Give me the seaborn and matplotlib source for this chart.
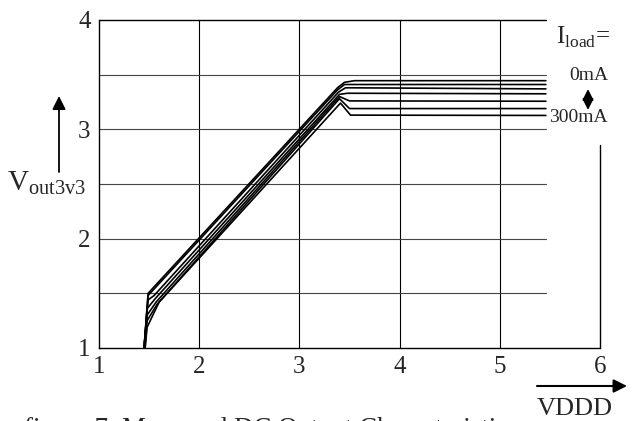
import matplotlib
matplotlib.use("Agg")
import matplotlib.pyplot as plt
import pandas as pd
import seaborn as sns

# curves, one per load step (0mA .. 300mA)
loads = ["0mA", "50mA", "100mA", "150mA", "200mA", "250mA", "300mA"]
vddd = [
    [1.45, 1.49, 3.38, 3.45, 3.55, 5.46],
    [1.45, 1.49, 3.38, 3.45, 3.55, 5.46],
    [1.45, 1.49, 1.55, 3.39, 3.46, 5.46],
    [1.45, 1.48, 1.56, 3.40, 3.48, 5.46],
    [1.45, 1.48, 1.57, 3.40, 3.50, 5.46],
    [1.46, 1.48, 1.58, 3.40, 3.50, 5.46],
    [1.46, 1.48, 1.60, 3.41, 3.51, 5.46],
]
vout = [
    [1.00, 1.50, 3.38, 3.43, 3.445, 3.445],
    [1.00, 1.48, 3.36, 3.41, 3.41, 3.41],
    [1.00, 1.44, 1.48, 3.34, 3.38, 3.37],
    [1.00, 1.36, 1.45, 3.32, 3.33, 3.325],
    [1.00, 1.30, 1.42, 3.30, 3.26, 3.257],
    [1.00, 1.25, 1.40, 3.28, 3.19, 3.19],
    [1.00, 1.19, 1.42, 3.24, 3.13, 3.127],
]
x_ticks = [1, 2, 3, 4, 5, 6]
y_ticks = [1, 2, 3, 4]

rows = []
for load, xs, ys in zip(loads, vddd, vout):
    for i, (x, y) in enumerate(zip(xs, ys)):
        rows.append({"load": load, "order": i, "VDDD": x, "Vout": y})
df = pd.DataFrame(rows)

sns.set_style("white")
plt.rcParams["font.family"] = ["Liberation Serif", "DejaVu Serif"]
plt.rcParams["mathtext.fontset"] = "custom"
plt.rcParams["mathtext.rm"] = "Liberation Serif"

W, H = 634, 421
fig = plt.figure(figsize=(W / 100, H / 100), dpi=100)
ax = fig.add_axes([99 / W, 1 - 348 / H, 501 / W, 328 / H])


def px(x, y):
    # pixel position from the top-left corner -> figure fraction
    return x / W, 1 - y / H


sns.lineplot(data=df, x="VDDD", y="Vout", hue="load", units="load",
             estimator=None, sort=False, palette=["black"] * len(loads),
             linewidth=1.2, legend=False, ax=ax)

ax.set_xlim(1, 6)
ax.set_ylim(1, 4)
ax.set_xticks(x_ticks)
ax.set_yticks(y_ticks)
ax.tick_params(length=0, labelsize=18, pad=6)
ax.set_xlabel("")
ax.set_ylabel("")

# grid: vertical full height, horizontal stops short of the right edge
for x in [2, 3, 4, 5]:
    ax.axvline(x, color="black", lw=0.8, zorder=0)
for y in [1.5, 2, 2.5, 3, 3.5]:
    ax.axhline(y, xmax=0.892, color="#444444", lw=0.8, zorder=0)

for side in ["top", "right"]:
    ax.spines[side].set_visible(False)
for side in ["left", "bottom"]:
    ax.spines[side].set_color("black")
    ax.spines[side].set_linewidth(1.0)
ax.axhline(4, xmax=0.892, color="black", lw=1.0, clip_on=False)
ax.axvline(6, ymax=0.62, color="black", lw=1.0, clip_on=False)

# annotations placed in figure pixels
fig.text(*px(556, 37), r"I$_{\mathrm{load}}$=", fontsize=18, va="center", ha="left")
fig.text(*px(589, 75), "0mA", fontsize=14, va="center", ha="center")
fig.text(*px(578, 118), "300mA", fontsize=14, va="center", ha="center")
ax.annotate("", xy=px(588, 89), xytext=px(588, 110),
            xycoords="figure fraction", textcoords="figure fraction",
            arrowprops=dict(arrowstyle="<|-|>", color="black", lw=1.4,
                            mutation_scale=16, shrinkA=0, shrinkB=0))

fig.text(*px(47, 183), r"V$_{\mathrm{out3v3}}$", fontsize=21, va="center", ha="center")
ax.annotate("", xy=px(59, 96), xytext=px(59, 172),
            xycoords="figure fraction", textcoords="figure fraction",
            arrowprops=dict(arrowstyle="-|>", color="black", lw=1.3,
                            mutation_scale=20, shrinkA=0, shrinkB=0))

ax.annotate("", xy=px(627, 386), xytext=px(537, 386),
            xycoords="figure fraction", textcoords="figure fraction",
            arrowprops=dict(arrowstyle="-|>", color="black", lw=1.5,
                            mutation_scale=20, shrinkA=0, shrinkB=0))
fig.text(*px(575, 409), "VDDD", fontsize=19, va="center", ha="center")

# caption is cut by the bottom edge, as in the source
fig.text(*px(271, 436), "figure 7: Measured DC Output Characteristics",
         fontsize=19.3, va="baseline", ha="center")

fig.savefig("out.png", dpi=100)
